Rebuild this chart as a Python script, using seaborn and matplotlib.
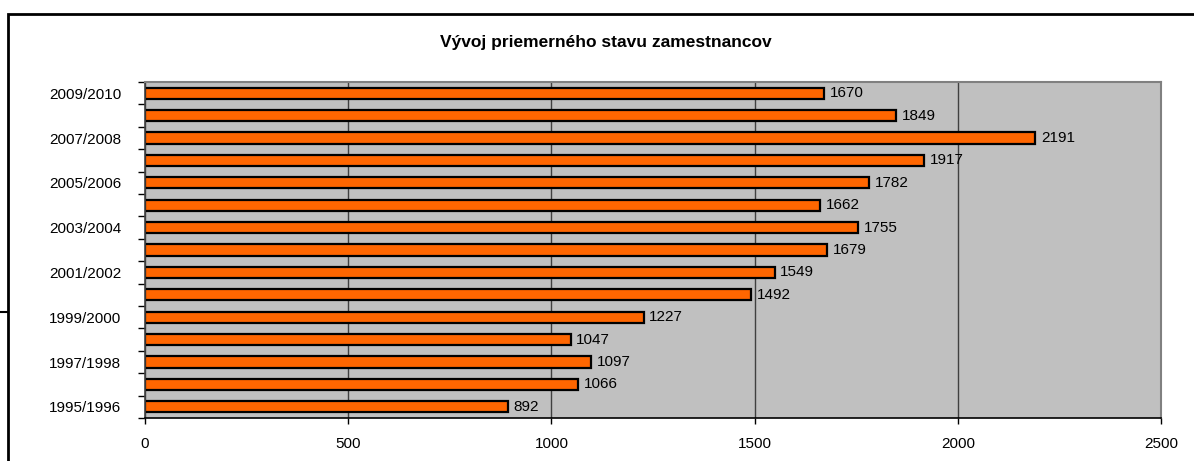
import seaborn as sns
import matplotlib.pyplot as plt
import pandas as pd
from matplotlib.patches import Rectangle
from matplotlib.lines import Line2D
from matplotlib.ticker import MultipleLocator, FixedLocator

seasons = ["1995/1996", "1996/1997", "1997/1998", "1998/1999", "1999/2000",
           "2000/2001", "2001/2002", "2002/2003", "2003/2004", "2004/2005",
           "2005/2006", "2006/2007", "2007/2008", "2008/2009", "2009/2010"]
employees = [892, 1066, 1097, 1047, 1227, 1492, 1549, 1679, 1755, 1662,
             1782, 1917, 2191, 1849, 1670]

df = pd.DataFrame({"Season": seasons, "Count": employees})
order = seasons[::-1]  # newest at the top

sns.set_theme(style="white")
plt.rcParams["font.family"] = ["Liberation Sans", "DejaVu Sans"]
plt.rcParams["text.color"] = "black"
plt.rcParams["xtick.color"] = "black"
plt.rcParams["ytick.color"] = "black"

fig = plt.figure(figsize=(11.94, 4.61), dpi=100)
ax = fig.add_axes([145 / 1194, 1 - 418 / 461, (1161 - 145) / 1194, (418 - 82) / 461])

ax.set_facecolor("#C0C0C0")
ax.set_axisbelow(True)
ax.xaxis.grid(True, color="#404040", linewidth=1)

sns.barplot(data=df, x="Count", y="Season", order=order, orient="h",
            color="#FF6600", edgecolor="black", linewidth=1.6,
            width=0.5, saturation=1, ax=ax)

for i, s in enumerate(order):
    v = employees[seasons.index(s)]
    ax.text(v + 14, i, str(v), va="center", ha="left", fontsize=11,
            color="black")

ax.set_xlim(0, 2500)
ax.xaxis.set_major_locator(MultipleLocator(500))
ax.set_ylim(len(order) - 0.5, -0.5)

ax.set_yticks(range(len(order)))
ax.set_yticklabels([s if i % 2 == 0 else "" for i, s in enumerate(order)])
ax.yaxis.set_minor_locator(FixedLocator([i - 0.5 for i in range(len(order) + 1)]))
ax.tick_params(axis="y", which="major", length=0, pad=17, labelsize=11,
               labelcolor="black")
ax.tick_params(axis="y", which="minor", length=5, width=1, color="black",
               direction="out", left=True)
ax.tick_params(axis="x", which="major", length=4, width=1, color="black",
               direction="out", bottom=True, pad=10, labelsize=11,
               labelcolor="black")

ax.set_xlabel("")
ax.set_ylabel("")

for side in ["top", "right"]:
    ax.spines[side].set_color("#808080")
    ax.spines[side].set_linewidth(1.5)
ax.spines["left"].set_color("#404040")
ax.spines["bottom"].set_color("black")
for side in ["left", "bottom"]:
    ax.spines[side].set_linewidth(1.2)

fig.text(0.507, 1 - 43 / 461, "Vývoj priemerného stavu zamestnancov",
         ha="center", va="center", fontsize=12.5, fontweight="bold",
         color="black")

# chart frame
fig.add_artist(Rectangle((8 / 1194, -0.2), 1.2, 1.2 - 14 / 461,
                         transform=fig.transFigure, fill=False,
                         edgecolor="black", linewidth=2, clip_on=False))
fig.add_artist(Line2D([0, 8 / 1194], [1 - 312 / 461, 1 - 312 / 461],
                      transform=fig.transFigure, color="black", linewidth=1.5))

fig.savefig("out.png", dpi=100)
